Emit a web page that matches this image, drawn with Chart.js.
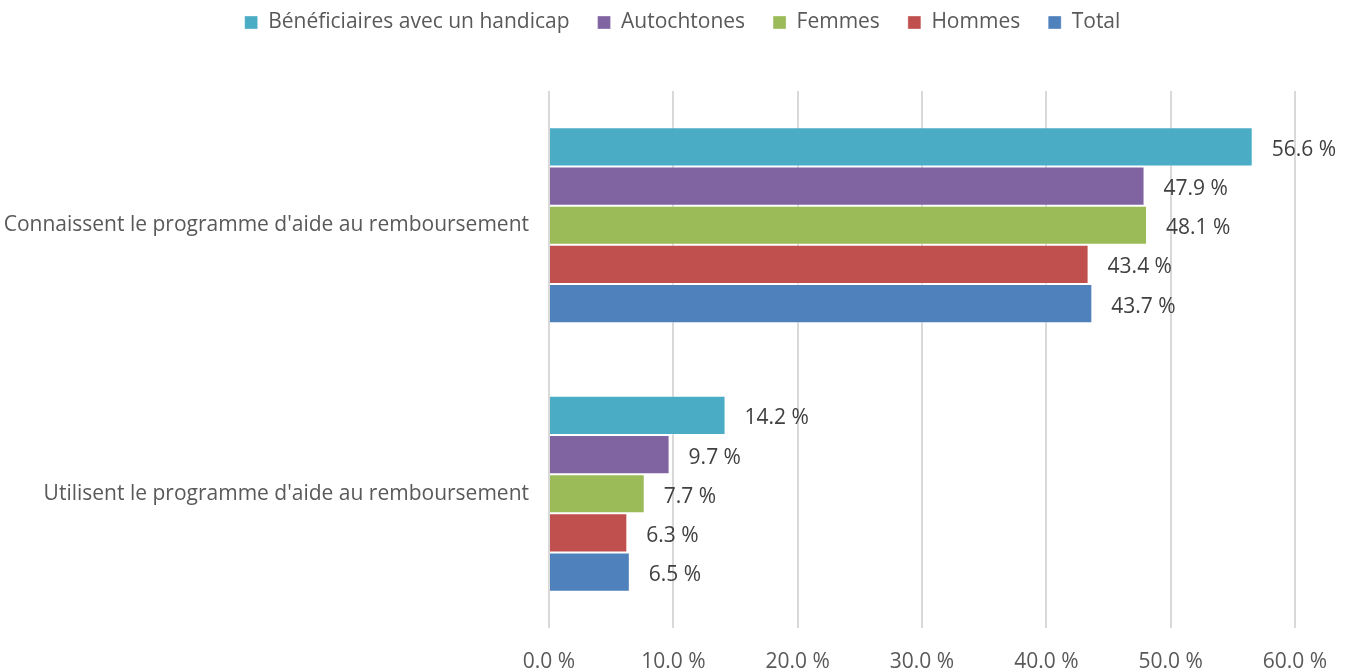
<!DOCTYPE html>
<html>
<head>
<meta charset="utf-8">
<script src="https://cdn.jsdelivr.net/npm/chart.js@4"></script>
<style>
  html, body { margin: 0; padding: 0; background: #ffffff; }
  #wrap { width: 1351px; height: 672px; position: relative; }
</style>
</head>
<body>
<div id="wrap"><canvas id="c"></canvas></div>
<script>
const categories = [
  "Connaissent le programme d'aide au remboursement",
  "Utilisent le programme d'aide au remboursement"
];
const seriesNames = ["Bénéficiaires avec un handicap", "Autochtones", "Femmes", "Hommes", "Total"];
const handicap = [56.6, 14.2];
const autochtones = [47.9, 9.7];
const femmes = [48.1, 7.7];
const hommes = [43.4, 6.3];
const total = [43.7, 6.5];
const xTicks = [0, 10, 20, 30, 40, 50, 60];

const colors = ["#4BACC6", "#8064A2", "#9BBB59", "#C0504D", "#4F81BD"];
const values = [handicap, autochtones, femmes, hommes, total];

const FONT = "'Open Sans', sans-serif";
const FS = 21;

const dataLabels = {
  id: 'dataLabels',
  afterDatasetsDraw(chart) {
    const ctx = chart.ctx;
    ctx.save();
    ctx.font = FS + "px " + FONT;
    ctx.fillStyle = "#404040";
    ctx.textBaseline = "middle";
    ctx.textAlign = "left";
    chart.data.datasets.forEach((ds, i) => {
      const meta = chart.getDatasetMeta(i);
      meta.data.forEach((el, j) => {
        ctx.fillText(ds.data[j].toFixed(1) + " %", el.x + 19, el.y + 3);
      });
    });
    ctx.restore();
  }
};

const legendSpace = {
  id: 'legendSpace',
  beforeInit(chart) {
    const origFit = chart.legend.fit;
    chart.legend.fit = function () {
      origFit.bind(chart.legend)();
      this.height = 91;
    };
  },
  afterLayout(chart) {
    chart.legend.top -= 16;
    chart.legend.left += 35;
    chart.legend.right += 35;
  }
};

new Chart(document.getElementById('c'), {
  type: 'bar',
  data: {
    labels: categories,
    datasets: seriesNames.map((n, i) => ({
      label: n,
      data: values[i],
      backgroundColor: colors[i],
      borderColor: "rgba(255,255,255,0.35)",
      borderWidth: 1,
      categoryPercentage: 0.73,
      barPercentage: 1.0
    }))
  },
  options: {
    indexAxis: 'y',
    responsive: true,
    maintainAspectRatio: false,
    animation: false,
    layout: { padding: { left: 0, right: 56, top: 0, bottom: 0 } },
    plugins: {
      legend: {
        position: 'top',
        labels: {
          boxWidth: 13,
          boxHeight: 13,
          padding: 28,
          color: "#595959",
          font: { family: FONT, size: FS }
        }
      },
      tooltip: { enabled: false }
    },
    scales: {
      x: {
        min: 0,
        max: 60,
        afterBuildTicks(scale) { scale.ticks = xTicks.map(v => ({ value: v })); },
        afterFit(scale) { scale.height = 44; },
        ticks: {
          color: "#595959",
          font: { family: FONT, size: FS },
          padding: 21,
          callback: (v) => Number(v).toFixed(1) + " %"
        },
        grid: { color: "#D9D9D9", lineWidth: 2, drawTicks: false },
        border: { display: false }
      },
      y: {
        afterFit(scale) { scale.width = 549; },
        ticks: {
          color: "#595959",
          font: { family: FONT, size: FS },
          padding: 12
        },
        grid: { display: false },
        border: { display: false }
      }
    }
  },
  plugins: [dataLabels, legendSpace]
});
</script>
</body>
</html>
